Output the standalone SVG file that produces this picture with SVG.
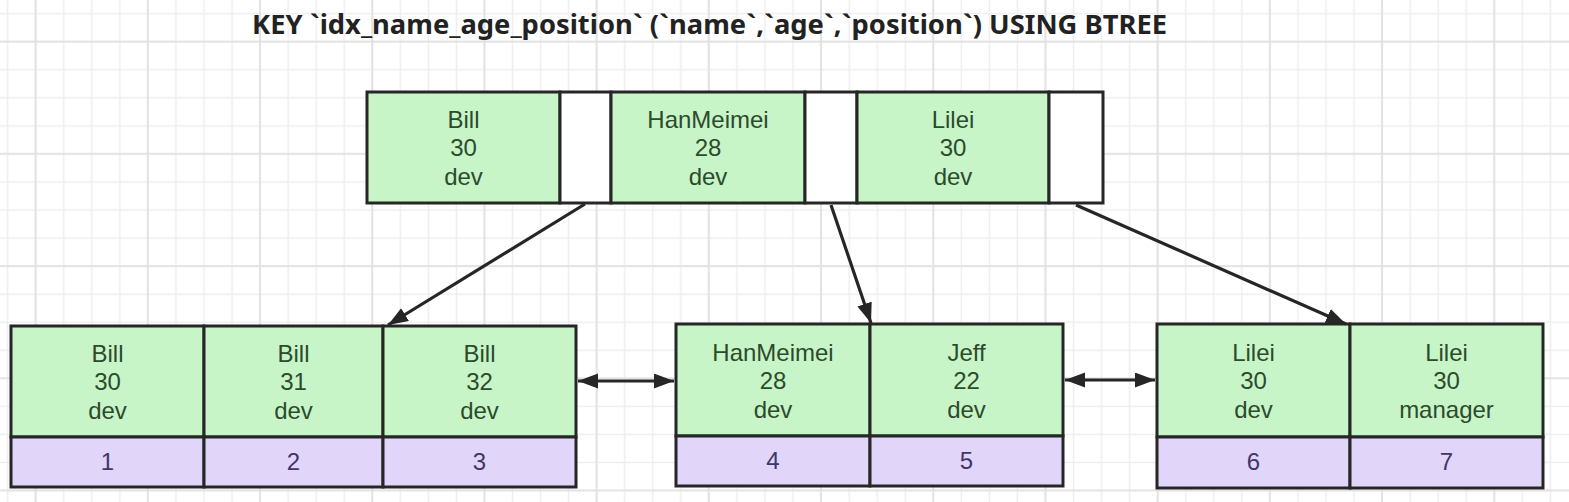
<svg xmlns="http://www.w3.org/2000/svg" width="1569" height="502" viewBox="0 0 1569 502">
<style>
.g{fill:#c8f5c8;stroke:#262626;stroke-width:3}
.p{fill:#e1d5fa;stroke:#262626;stroke-width:3}
.w{fill:#ffffff;stroke:#262626;stroke-width:3}
.t{font-family:"Liberation Sans","Noto Sans",sans-serif;font-size:24px;fill:#2c4a2c;text-anchor:middle}
.n{font-family:"Liberation Sans","Noto Sans",sans-serif;font-size:24px;fill:#40366a;text-anchor:middle}
.title{font-family:"Noto Sans","Open Sans",sans-serif;font-size:27px;font-weight:bold;fill:#222}
.c{stroke:#262626;stroke-width:3.2;fill:none}
</style>
<defs>
<pattern id="minor" patternUnits="userSpaceOnUse" x="-6.35" y="-0.35" width="28.05" height="28.05">
<path d="M14,0V28.05M0,14H28.05" stroke="#eeeeee" stroke-width="1.5" fill="none"/>
</pattern>
<pattern id="major" patternUnits="userSpaceOnUse" x="21.7" y="27.7" width="112.2" height="112.2">
<path d="M14,0V112.2M0,14H112.2" stroke="#e2e2e2" stroke-width="1.8" fill="none"/>
</pattern>
<marker id="ah" markerUnits="userSpaceOnUse" markerWidth="22" markerHeight="16" refX="20" refY="7.5" orient="auto-start-reverse">
<path d="M0,0L20,7.5L0,15z" fill="#262626"/>
</marker>
</defs>
<rect width="1569" height="502" fill="#ffffff"/>
<rect width="1569" height="502" fill="url(#minor)"/>
<rect width="1569" height="502" fill="url(#major)"/>
<text id="title" class="title" x="252" y="34" textLength="915" lengthAdjust="spacingAndGlyphs">KEY `idx_name_age_position` (`name`,`age`,`position`) USING BTREE</text>
<g id="root">
<rect class="g" x="367" y="92" width="193" height="111"/>
<rect class="w" x="560" y="92" width="51" height="111"/>
<rect class="g" x="611" y="92" width="194" height="111"/>
<rect class="w" x="805" y="92" width="52" height="111"/>
<rect class="g" x="857" y="92" width="192" height="111"/>
<rect class="w" x="1049" y="92" width="54" height="111"/>
<text class="t" x="463.5" y="128">Bill</text><text class="t" x="463.5" y="156">30</text><text class="t" x="463.5" y="185">dev</text>
<text class="t" x="708" y="128">HanMeimei</text><text class="t" x="708" y="156">28</text><text class="t" x="708" y="185">dev</text>
<text class="t" x="953" y="128">Lilei</text><text class="t" x="953" y="156">30</text><text class="t" x="953" y="185">dev</text>
</g>
<g id="leaf1">
<rect class="g" x="11" y="326" width="193" height="111"/>
<rect class="g" x="204" y="326" width="179" height="111"/>
<rect class="g" x="383" y="326" width="193" height="111"/>
<rect class="p" x="11" y="437" width="193" height="50"/>
<rect class="p" x="204" y="437" width="179" height="50"/>
<rect class="p" x="383" y="437" width="193" height="50"/>
<text class="t" x="107.5" y="362">Bill</text><text class="t" x="107.5" y="390">30</text><text class="t" x="107.5" y="419">dev</text>
<text class="t" x="293.5" y="362">Bill</text><text class="t" x="293.5" y="390">31</text><text class="t" x="293.5" y="419">dev</text>
<text class="t" x="479.5" y="362">Bill</text><text class="t" x="479.5" y="390">32</text><text class="t" x="479.5" y="419">dev</text>
<text class="n" x="107.5" y="470">1</text>
<text class="n" x="293.5" y="470">2</text>
<text class="n" x="479.5" y="470">3</text>
</g>
<g id="leaf2">
<rect class="g" x="676" y="324" width="194" height="112"/>
<rect class="g" x="870" y="324" width="193" height="112"/>
<rect class="p" x="676" y="436" width="194" height="50"/>
<rect class="p" x="870" y="436" width="193" height="50"/>
<text class="t" x="773" y="361">HanMeimei</text><text class="t" x="773" y="389">28</text><text class="t" x="773" y="418">dev</text>
<text class="t" x="966.5" y="361">Jeff</text><text class="t" x="966.5" y="389">22</text><text class="t" x="966.5" y="418">dev</text>
<text class="n" x="773" y="469">4</text>
<text class="n" x="966.5" y="469">5</text>
</g>
<g id="leaf3">
<rect class="g" x="1157" y="324" width="193" height="113"/>
<rect class="g" x="1350" y="324" width="193" height="113"/>
<rect class="p" x="1157" y="437" width="193" height="51"/>
<rect class="p" x="1350" y="437" width="193" height="51"/>
<text class="t" x="1253.5" y="361">Lilei</text><text class="t" x="1253.5" y="389">30</text><text class="t" x="1253.5" y="418">dev</text>
<text class="t" x="1446.5" y="361">Lilei</text><text class="t" x="1446.5" y="389">30</text><text class="t" x="1446.5" y="418">manager</text>
<text class="n" x="1253.5" y="470">6</text>
<text class="n" x="1446.5" y="470">7</text>
</g>
<g id="connectors">
<line class="c" x1="585" y1="204" x2="388" y2="325" marker-end="url(#ah)"/>
<line class="c" x1="831" y1="205" x2="871" y2="323" marker-end="url(#ah)"/>
<line class="c" x1="1076" y1="205" x2="1346" y2="324" marker-end="url(#ah)"/>
<line class="c" x1="578" y1="381" x2="674" y2="381" marker-start="url(#ah)" marker-end="url(#ah)"/>
<line class="c" x1="1065" y1="380" x2="1155" y2="380" marker-start="url(#ah)" marker-end="url(#ah)"/>
</g>
</svg>
